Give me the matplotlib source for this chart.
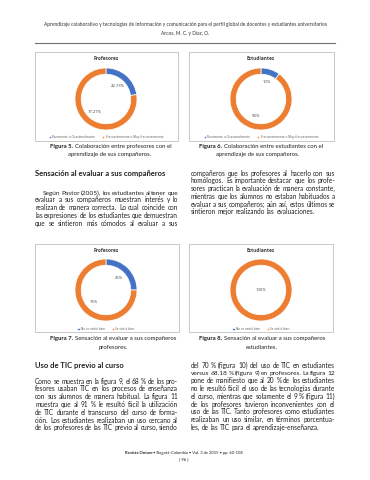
import math
import matplotlib
matplotlib.use("Agg")
import numpy as np
import matplotlib.pyplot as plt
from matplotlib.patches import Rectangle
from matplotlib.lines import Line2D
from matplotlib.font_manager import FontProperties

# ---------------- data ----------------
colab_categories = ["Raramente u Ocasionalmente", "Frecuentemente o Muy frecuentemente"]
colab_profesores = [22.73, 77.27]
colab_estudiantes = [10, 90]

sens_categories = ["No se sintió bien", "Se sintió bien"]
sens_profesores = [25, 75]
sens_estudiantes = [0, 100]

chart_titles = ["Profesores", "Estudiantes"]

# ---------------- setup ----------------
W, H = 370, 480
fig = plt.figure(figsize=(3.7, 4.8), dpi=100)
fig.patch.set_facecolor("white")
renderer = fig.canvas.get_renderer()

BODY = ["Lato", "DejaVu Sans"]
CHART = ["Open Sans", "DejaVu Sans"]
TXT = "#231f20"
CTXT = "#404040"
COLORS = ["#4472C4", "#ED7D31"]


def fx(x):
    return x / W


def fy(y):
    return 1 - y / H


def tw(s, size, weight="normal", family=BODY):
    t = fig.text(0, 0, s, fontsize=size, fontweight=weight, family=family)
    w = t.get_window_extent(renderer).width
    t.remove()
    return w


def fit(s, width, weight="normal", family=BODY):
    size = 10 * width / tw(s, 10, weight, family)
    for _ in range(3):
        size *= width / tw(s, size, weight, family)
    return size


def put(x, y, s, size, weight="normal", ha="left", color=TXT, family=BODY):
    """y = visual centre of lowercase text (px from top). The baseline is
    snapped to a whole pixel row so words on one line share it exactly."""
    T = int(round(y + size * 0.55))
    prop = FontProperties(family=family, size=size, weight=weight)
    w, h, d = renderer.get_text_width_height_descent(s, prop, ismath=False)
    a = h - d
    B = T - d + math.floor(h) - math.floor(a)
    fig.text(fx(x), (H - B) / H, s, fontproperties=prop, ha=ha,
             va="baseline", color=color)


SP = 0.26  # word space, in em


def line_fit(words, width):
    def total(s):
        return sum(tw(w, s) for w in words) + SP * s * 100 / 72 * (len(words) - 1)
    s = 10 * width / total(10)
    for _ in range(2):
        s *= width / total(s)
    return s


def justified(lines, x0, x1, y0, dy, size, indent=0.0, last_free=True):
    em = size * 100 / 72
    for i, line in enumerate(lines):
        y = y0 + i * dy
        xs = x0 + (indent if i == 0 else 0)
        words = line.split()
        free = (i == len(lines) - 1 and last_free) or len(words) == 1
        s = size
        widths = [tw(w, s) for w in words]
        if free:
            gap = SP * em
        else:
            need = sum(widths) + 0.2 * em * (len(words) - 1)
            if need > (x1 - xs):
                s = size * (x1 - xs) / need
                widths = [tw(w, s) for w in words]
            gap = (x1 - xs - sum(widths)) / (len(words) - 1)
        x = xs
        for w, wd in zip(words, widths):
            put(x, y, w, s)
            x += wd + gap


def mixed_centered(parts, cx, y, size):
    gap = size * 100 / 72 * 0.25
    widths = [tw(s, size, w) for s, w in parts]
    total = sum(widths) + gap * (len(parts) - 1)
    x = cx - total / 2
    for (s, w), wd in zip(parts, widths):
        put(x, y, s, size, weight=w)
        x += wd + gap


def box(x0, y0, x1, y1):
    fig.add_artist(Rectangle((fx(x0), fy(y1)), (x1 - x0) / W, (y1 - y0) / H,
                             transform=fig.transFigure, fill=False,
                             ec="#BFBFBF", lw=0.6))


def fmt(v):
    return ("%d%%" % v) if float(v).is_integer() else ("%.2f%%" % v)


title_size = fit("Profesores", 25, "bold", CHART)
pct_size = fit("22.73%", 14, "normal", CHART)
leg_size = fit("Raramente u Ocasionalmente", 42, "normal", CHART)


def donut(cx, cy, values, title, title_y, cats, legend_y):
    r = 31
    ax = fig.add_axes([fx(cx - r), fy(cy + r), 2 * r / W, 2 * r / H])
    wedges, _ = ax.pie(values, colors=COLORS, startangle=90, counterclock=False,
                       radius=1, wedgeprops=dict(width=0.2, edgecolor="white",
                                                 linewidth=0.5))
    ax.set_xlim(-1, 1)
    ax.set_ylim(-1, 1)
    ax.set_aspect("equal")
    ax.axis("off")
    total = sum(values)
    for wdg, v in zip(wedges, values):
        if v <= 0:
            continue
        if v >= total:
            px, py = 0, 0
        else:
            a = np.deg2rad((wdg.theta1 + wdg.theta2) / 2)
            px, py = 0.57 * np.cos(a), 0.57 * np.sin(a)
        ax.text(px, py, fmt(v), ha="center", va="center", fontsize=pct_size,
                color=CTXT, family=CHART)
    put(cx, title_y, title, title_size, weight="bold", ha="center", color=CTXT,
        family=CHART)
    ax.legend(wedges, cats, loc="center", bbox_to_anchor=(fx(cx), fy(legend_y)),
              bbox_transform=fig.transFigure, ncol=2, frameon=False,
              handlelength=0.7, handleheight=0.7,
              handletextpad=0.4, columnspacing=2.2, labelcolor="#595959",
              prop=dict(family=CHART, size=leg_size))


# ---------------- header ----------------
h1 = ("Aprendizaje colaborativo y tecnologías de información y comunicación "
      "para el perfil global de docentes y estudiantes universitarios")
hs_ = fit(h1, 280)
put(185, 24.5, h1, hs_, ha="center", color="#333333")
put(185, 33.5, "Arcos, M. C. y Díaz, O.", hs_, ha="center", color="#333333")
fig.add_artist(Line2D([fx(35), fx(335)], [fy(43), fy(43)],
                      transform=fig.transFigure, color="#707070", lw=0.8))

# ---------------- charts row 1 ----------------
box(35, 52, 178, 141)
box(189, 52, 334, 141)
donut(106, 99, colab_profesores, chart_titles[0], 58, colab_categories, 137)
donut(261, 99, colab_estudiantes, chart_titles[1], 58, colab_categories, 137)

cap_size = fit("Figura 5. Colaboración entre profesores con el", 122)
mixed_centered([("Figura 5.", "bold"), ("Colaboración entre profesores con el", "normal")], 111, 146, cap_size)
mixed_centered([("aprendizaje de sus compañeros.", "normal")], 110, 154, cap_size)
mixed_centered([("Figura 6.", "bold"), ("Colaboración entre estudiantes con el", "normal")], 261, 146, cap_size)
mixed_centered([("aprendizaje de sus compañeros.", "normal")], 258, 154, cap_size)

# ---------------- text block 1 ----------------
left1 = ["Según Pastor (2005), los estudiantes al tener que",
         "evaluar a sus compañeros muestran interés y lo",
         "realizan de manera correcta. Lo cual coincide con",
         "las expresiones de los estudiantes que demuestran",
         "que se sintieron más cómodos al evaluar a sus"]
right1 = ["compañeros que los profesores al hacerlo con sus",
          "homólogos. Es importante destacar que los profe-",
          "sores practican la evaluación de manera constante,",
          "mientras que los alumnos no estaban habituados a",
          "evaluar a sus compañeros; aún así, estos últimos se",
          "sintieron mejor realizando las evaluaciones."]
left2 = ["Como se muestra en la figura 9, el 68 % de los pro-",
         "fesores usaban TIC en los procesos de enseñanza",
         "con sus alumnos de manera habitual. La figura 11",
         "muestra que al 91 % le resultó fácil la utilización",
         "de TIC durante el transcurso del curso de forma-",
         "ción. Los estudiantes realizaban un uso cercano al",
         "de los profesores de las TIC previo al curso, siendo"]
right2 = ["del 70 % (figura 10) del uso de TIC en estudiantes",
          "versus 68.18 % (figura 9) en profesores. La figura 12",
          "pone de manifiesto que al 20 % de los estudiantes",
          "no le resultó fácil el uso de las tecnologías durante",
          "el curso, mientras que solamente el 9 % (figura 11)",
          "de los profesores tuvieron inconvenientes con el",
          "uso de las TIC. Tanto profesores como estudiantes",
          "realizaban un uso similar, en términos porcentua-",
          "les, de las TIC para el aprendizaje-enseñanza."]

all_just = left1 + right1[:-1] + left2 + right2[:-1]
body = float(np.median([line_fit(l.split(), 143) for l in all_just]))

head_size = fit("Sensación al evaluar a sus compañeros", 130, "bold")
put(35, 173, "Sensación al evaluar a sus compañeros", head_size, weight="bold")
justified(left1, 35, 178, 192, 7.75, body, indent=8, last_free=False)
justified(right1, 191, 335, 173, 7.75, body)

# ---------------- charts row 2 ----------------
box(35, 244, 179, 332)
box(189, 244, 333, 332)
donut(106, 290, sens_profesores, chart_titles[0], 250, sens_categories, 329)
donut(261, 290, sens_estudiantes, chart_titles[1], 250, sens_categories, 329)

mixed_centered([("Figura 7.", "bold"), ("Sensación al evaluar a sus compañeros", "normal")], 113, 338, cap_size)
mixed_centered([("profesores.", "normal")], 113, 347, cap_size)
mixed_centered([("Figura 8.", "bold"), ("Sensación al evaluar a sus compañeros", "normal")], 262, 338, cap_size)
mixed_centered([("estudiantes.", "normal")], 262, 347, cap_size)

# ---------------- text block 2 ----------------
put(35, 365, "Uso de TIC previo al curso", head_size, weight="bold")
justified(left2, 35, 178, 381, 7.8, body, last_free=False)
justified(right2, 191, 335, 365, 7.8, body)

# ---------------- footer ----------------
fs = fit("Revista Ontare • Bogotá-Colombia • Vol. 3 de 2015 • pp. 60-108", 118)
mixed_centered([("Revista Ontare", "bold"),
                ("• Bogotá-Colombia • Vol. 3 de 2015 • pp. 60-108", "normal")], 184, 452, fs)
put(184, 459, "[ 96 ]", fs, ha="center")

fig.savefig("out.png", dpi=100, facecolor="white")
